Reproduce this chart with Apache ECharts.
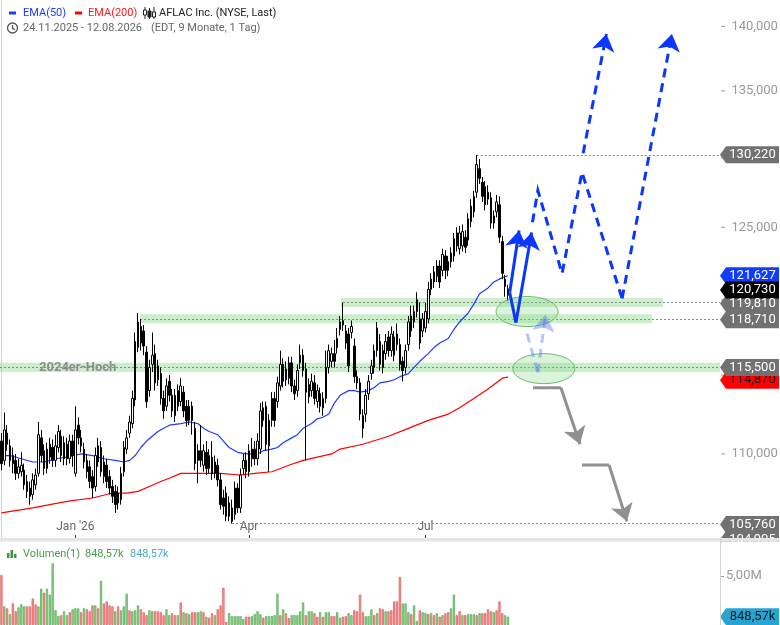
<!DOCTYPE html>
<html><head><meta charset="utf-8">
<script src="https://cdn.jsdelivr.net/npm/echarts@6/dist/echarts.min.js"></script>
<style>html,body{margin:0;padding:0;background:#fff}#c{width:780px;height:625px}</style>
</head><body><div id="c"></div>
<script>
// ---------- DATA ----------
const holidays = ['2025-11-27','2025-12-25','2026-01-01','2026-01-19','2026-02-16','2026-04-03','2026-05-25','2026-06-19','2026-07-03','2026-09-07'];
const firstDate = '2025-11-24';
const slotCount = 253;               // trading-day slots incl. empty future area
// candles: [open, close, low, high]
const ohlc = [
[110.8,109.4,109.0,111.3],[109.6,111.5,109.3,112.6],[111.3,110.6,110.2,111.8],[110.5,109.6,109.2,110.9],[109.9,109.4,108.8,110.4],
[109.6,108.8,108.4,110.0],[108.8,109.2,108.5,109.7],[108.9,109.3,108.6,110.1],[109.0,108.1,107.8,109.4],[108.3,107.7,107.3,108.7],
[107.9,107.4,106.9,108.3],[107.5,108.4,107.2,108.8],[108.1,108.7,107.8,109.1],[108.8,111.2,108.6,112.0],[111.0,109.9,109.5,111.5],
[110.2,109.1,108.7,110.6],[109.1,110.3,108.8,110.7],[109.8,110.6,109.4,111.0],[110.4,109.6,109.2,110.9],[109.6,110.5,109.2,111.2],
[110.4,111.4,110.1,111.8],[111.1,109.9,109.5,111.5],[109.7,110.7,109.3,111.1],[110.6,109.7,109.3,111.0],[109.7,110.8,109.4,111.2],
[110.8,109.9,109.2,111.2],[108.8,111.5,108.6,113.0],[111.8,111.0,110.6,112.3],[111.0,110.5,110.1,111.5],[110.3,109.5,109.1,110.7],
[109.6,108.9,108.5,110.0],[109.2,108.3,107.9,109.6],[108.6,107.9,107.3,109.0],[108.0,109.9,107.7,110.4],[109.5,110.5,109.2,111.0],
[110.4,108.9,108.6,110.8],[108.6,109.5,108.2,109.9],[109.3,108.3,107.9,109.7],[108.6,107.9,107.5,109.0],[108.0,107.4,107.0,108.4],
[107.7,106.9,106.4,108.1],[107.0,107.6,106.6,108.0],[107.2,108.8,106.9,109.2],[108.9,110.4,108.6,110.8],[110.3,111.0,110.0,111.5],
[111.3,112.0,111.0,112.4],[111.9,113.5,111.6,114.0],[113.4,117.2,113.0,117.8],[116.8,118.5,116.5,119.1],[118.2,117.1,116.6,118.7],
[117.9,116.9,116.3,118.3],[116.5,113.3,112.9,116.9],[114.0,115.5,113.6,116.0],[115.7,116.3,115.2,117.8],[116.4,114.5,114.0,117.0],
[114.7,115.6,114.3,116.0],[115.1,113.5,113.1,115.5],[113.5,112.7,112.2,114.0],[113.0,114.3,112.7,114.8],[114.6,113.7,113.3,115.0],
[113.7,112.7,112.3,114.1],[112.4,113.7,112.0,114.1],[113.0,114.0,112.7,114.4],[113.3,114.3,113.0,114.8],[113.9,112.7,112.3,114.3],
[113.0,112.1,111.7,113.4],[112.1,113.0,111.8,113.4],[113.0,112.1,111.2,113.3],[111.6,109.4,109.0,112.0],[109.6,110.2,108.2,110.6],
[110.2,109.6,109.2,111.8],[109.3,110.2,108.9,110.6],[110.1,109.1,108.7,110.8],[109.1,109.9,108.8,110.3],[109.8,108.8,108.4,110.8],
[108.8,109.5,108.5,109.9],[109.3,108.4,108.0,109.7],[108.4,106.9,106.6,108.8],[107.3,106.8,106.3,107.8],[107.6,106.2,105.9,108.0],
[106.2,107.0,105.9,107.4],[106.7,105.9,105.76,107.2],[106.3,107.9,106.0,108.3],[107.9,106.7,106.4,108.2],[106.7,108.7,106.4,109.1],
[109.1,109.6,108.7,110.0],[109.6,108.9,108.5,110.1],[108.9,110.2,108.6,110.6],[109.7,110.3,109.2,111.0],[110.3,109.7,109.3,110.8],
[109.7,110.8,109.3,111.3],[110.3,112.7,110.0,113.2],[112.1,112.9,111.7,113.3],[113.0,110.6,110.2,113.3],[110.5,112.1,108.9,112.5],
[112.1,113.5,111.7,113.9],[113.5,112.1,111.7,113.9],[113.3,114.5,112.9,114.9],[114.3,115.7,114.0,116.6],[115.7,114.6,114.2,116.1],
[115.4,114.7,114.3,115.9],[114.8,115.8,114.4,116.2],[115.8,114.3,113.9,116.2],[114.3,113.8,113.4,114.7],[114.0,115.3,113.6,115.7],
[115.8,116.3,115.4,117.0],[116.3,115.3,114.9,116.7],[115.4,113.9,109.6,115.8],[113.6,114.4,113.2,114.8],[114.0,114.6,113.6,115.1],
[114.5,113.5,113.1,115.0],[113.3,114.0,112.9,114.4],[113.8,113.0,112.6,114.2],[113.5,112.9,112.4,113.9],[113.5,115.5,113.2,116.6],
[115.5,116.6,115.1,117.0],[115.9,116.4,115.5,116.8],[116.4,115.9,115.5,117.3],[116.8,117.4,116.4,118.1],[118.0,118.5,117.6,118.9],
[118.3,118.6,117.9,119.81],[117.9,117.1,116.7,118.3],[117.7,115.6,115.2,118.1],[117.8,118.2,117.4,118.6],[116.9,114.9,114.5,117.4],
[114.9,114.5,114.1,115.3],[114.5,112.5,112.1,114.8],[112.4,111.6,111.0,112.8],[112.5,113.7,112.0,114.1],[113.8,114.6,113.4,115.0],
[115.1,115.6,114.7,116.0],[115.5,116.6,115.1,117.0],[116.6,118.1,116.2,118.5],[117.2,115.7,115.3,117.7],[116.6,115.5,115.1,117.0],
[116.4,117.2,116.0,117.7],[117.5,116.6,116.2,117.9],[116.6,117.7,116.2,118.2],[117.5,116.3,115.9,117.9],[117.0,117.7,116.6,118.4],
[117.0,115.7,115.3,117.4],[115.9,115.3,114.6,116.2],[115.5,116.6,115.1,117.0],[117.0,118.5,116.6,118.9],[117.9,118.9,117.5,119.6],
[118.5,119.2,118.1,119.6],[119.2,120.0,118.8,120.5],[118.7,117.1,116.7,119.8],[117.9,118.7,117.5,119.1],[118.1,119.2,117.8,119.8],
[118.7,120.7,118.4,121.2],[120.7,121.4,120.3,121.8],[121.2,121.9,120.8,122.3],[121.6,122.3,121.2,122.7],[122.3,121.2,120.8,122.7],
[122.0,123.1,121.6,123.5],[123.0,122.0,121.4,123.4],[122.6,122.0,121.6,123.0],[122.6,123.2,122.2,123.6],[123.0,124.2,122.6,124.6],
[124.6,123.7,123.3,125.0],[123.5,124.6,123.1,125.1],[123.7,124.7,123.3,125.2],[124.3,123.6,123.2,124.8],[124.1,125.6,123.7,126.0],
[125.4,126.5,125.0,127.0],[126.1,127.2,125.7,127.6],[127.5,129.5,127.1,130.22],[129.2,128.5,128.1,129.9],[128.2,127.2,126.8,128.6],
[127.9,126.6,126.2,128.3],[127.0,127.5,126.6,128.0],[127.1,125.3,124.9,127.5],[125.3,125.8,124.9,126.2],[126.1,126.8,125.7,127.3],
[126.6,124.3,123.9,127.2],[124.0,121.8,121.4,124.4],[121.4,120.9,120.2,121.7],[120.3,120.73,119.9,121.0]
];
// EMA lines: [bar index, value]
const ema50 = [[0,109.9],[3,109.9],[7,109.7],[11,109.5],[15,109.5],[19,109.7],[23,109.8],[28,110.0],[32,109.9],[36,109.7],[40,109.6],[43,109.5],[45,109.6],[47,109.9],[49,110.4],[51,110.8],[53,111.1],[55,111.4],[57,111.6],[59,111.8],[63,111.9],[66,112.0],[69,111.9],[71,111.6],[73,111.4],[76,111.2],[78,110.8],[80,110.4],[83,110.1],[86,110.0],[88,110.0],[90,110.0],[92,110.2],[95,110.3],[97,110.4],[99,110.7],[102,111.0],[104,111.2],[106,111.6],[109,111.9],[111,112.2],[113,112.3],[115,112.5],[117,113.2],[119,113.7],[122,114.0],[124,114.0],[126,113.9],[129,114.0],[131,114.2],[133,114.5],[136,114.6],[138,114.7],[140,114.9],[143,115.1],[145,115.5],[147,115.9],[150,116.4],[152,116.8],[154,117.1],[157,117.4],[159,118.0],[161,118.5],[164,119.1],[166,119.7],[168,120.4],[171,120.8],[173,121.2],[176,121.5],[178,121.627]];
const ema200 = [[0,106.4],[11,106.7],[23,107.1],[32,107.3],[39,107.6],[44,107.6],[48,107.7],[52,108.0],[56,108.3],[59,108.5],[63,108.8],[70,108.8],[77,108.8],[84,108.7],[89,108.8],[95,108.9],[101,109.3],[106,109.6],[116,110.0],[119,110.3],[127,110.6],[136,111.1],[143,111.6],[150,112.1],[157,112.5],[161,112.9],[166,113.5],[171,114.1],[176,114.8],[178,114.87]];
// volume in millions, and up(1)/down(0) colouring as drawn
const volume = [5.1,1.9,1.7,1.1,2.2,1.4,1.8,2.1,1.9,1.9, 1.9,2.7,2.1,1.9,3.7,3.3,3.7,3.1,6.3,1.5,
0.9,1.0,1.4,1.0,1.3,1.6,1.7,1.7,1.3,1.7, 1.6,1.4,2.0,2.0,1.7,4.5,2.2,2.4,2.0,1.9,
1.4,1.9,1.5,1.9,3.2,1.5,1.4,1.5,2.0,1.6, 1.3,1.0,1.5,1.4,1.4,1.4,1.3,1.0,1.6,1.0,
1.2,1.0,1.0,2.3,1.3,1.2,1.1,1.3,1.3,1.3, 1.4,1.3,0.85,0.75,1.2,1.0,1.6,2.0,3.8,0.3,
1.2,0.9,0.9,0.9,0.9,0.6,0.85,0.85,0.9,1.1, 1.4,1.1,0.75,0.9,0.9,0.9,1.0,3.2,1.0,1.6,
1.2,0.7,1.0,1.0,1.0,1.4,2.3,1.0,1.4,1.4, 1.2,0.85,1.3,0.85,1.3,1.3,0.9,0.9,1.3,0.75,
0.85,0.9,1.2,1.0,1.5,1.4,3.1,1.3,0.9,0.9, 1.6,1.0,1.2,1.7,1.6,1.4,1.4,1.5,2.4,2.4,
4.9,2.2,2.2,1.3,1.1,2.0,0.4,1.5,1.3,1.2, 1.1,1.2,1.0,1.2,0.85,1.0,1.2,1.3,1.7,3.1,
1.0,1.4,1.0,1.0,1.1,1.1,1.1,1.0,1.2,1.2, 1.2,1.6,1.4,1.3,1.5,2.4,1.2,1.0,0.84857];
const volumeUp = [0,1,0,1,0,0,1,1,1,0, 0,0,0,1,1,0,1,1,1,1, 1,0,1,1,0,1,1,1,0,1,
0,0,0,1,0,1,0,0,0,0, 1,0,1,1,1,0,1,1,1,0, 0,0,1,1,0,0,0,0,1,1, 0,0,1,0,1,0,1,0,0,1,
1,0,1,0,0,1,0,0,0,0, 1,1,1,1,1,1,0,0,1,1, 1,1,0,1,1,1,1,1,0,1, 0,0,1,1,1,1,1,0,1,1,
0,0,1,0,1,1,0,0,1,1, 0,0,1,1,0,0,0,0,1,1, 1,0,1,0,0,1,0,0,0,0, 0,1,1,1,0,1,1,0,1,1,
0,1,0,1,0,1,0,0,1,1, 0,0,1,0,1,1,1,0,1,0, 0,0,0,1,0,0,0,1,1];
const yTickValues = [110,115,120,125,130,135,140];
const zoneLevels = [115.5, 118.71, 119.81];
const zoneFrom = [-0.5, 48.7, 119.3];
const zoneTo = [252.5, 228.6, 232.5];
const zoneHalf = 0.3;
const levelTags = [130.22, 119.81, 118.71, 115.5, 105.76, 104.905];
const levelStart = [167, 120, 48.7, -0.5, 81, null];
const zoneLabel = '2024er-Hoch';
// hand-drawn annotations, as [bar slot, price]
const blueSolidPlain = [[[178.6,120.48],[180.8,118.46]]];
const blueSolidArrows = [[[178.6,120.48],[181.9,124.78]], [[180.8,118.46],[186.3,124.64]]];
const blueDashPlain = [[[186.6,125.35],[188.5,127.63],[197.0,121.78],[204.0,128.94],[218.1,120.08]]];
const blueDashArrows = [[[218.1,120.08],[235.6,139.4]], [[204.4,130.33],[212.6,139.4]]];
const lightDashPlain = [[[184.7,117.72],[188.5,115.16]]];
const lightDashArrows = [[[188.5,115.16],[191.2,119.0]]];
const grayPlain = [[[186.8,114.19],[196.6,114.19]], [[204.0,109.32],[213.5,109.32]]];
const grayArrows = [[[196.6,114.19],[203.3,110.6]], [[213.5,109.32],[219.8,105.9]]];
const ellipseCenters = [[184.7,119.2],[190.6,115.42]];

// ---------- BUILD ----------
function buildDates(){
  const out=[]; const d=new Date(firstDate+'T00:00:00Z');
  while(out.length<slotCount){
    const s=d.toISOString().slice(0,10), w=d.getUTCDay();
    if(w!==0&&w!==6&&holidays.indexOf(s)<0) out.push(s);
    d.setUTCDate(d.getUTCDate()+1);
  }
  return out;
}
const dates = buildDates();
const monthNames=['Jan','Feb','Mär','Apr','Mai','Jun','Jul','Aug','Sep','Okt','Nov','Dez'];
function isQuarterStart(idx){
  if(idx===0) return false;
  const m=+dates[idx].slice(5,7)-1, pm=+dates[idx-1].slice(5,7)-1;
  return m!==pm && (m===0||m===3||m===6) && dates[idx].slice(0,4)==='2026';
}
function dateLabel(v){
  const m=+v.slice(5,7)-1;
  return m===0 ? "Jan '"+v.slice(2,4) : monthNames[m];
}
const fmt3 = v => v.toFixed(3).replace('.', ',');
const XMAX = slotCount - 0.5;
const lastClose = ohlc[ohlc.length-1][1];
const ema50Last = ema50[ema50.length-1][1];
const ema200Last = ema200[ema200.length-1][1];
const lastVol = volume[volume.length-1];
const volText = (lastVol*1000).toFixed(2).replace('.',',')+'k';

const TAG = 'path://M0,8.5 L6,0 L59,0 L59,17 L6,17 Z';
function tag(v, text, color, textColor, dy){
  return {coord:[XMAX, v], name:text, symbol:TAG, symbolSize:[59,17], symbolOffset:[29.5, dy||0],
    itemStyle:{color:color}, label:{color:textColor||'#fff'}};
}
const gray='#717171';
const tagData = [];
tagData.push(tag(levelTags[0], fmt3(levelTags[0]), gray));
tagData.push(tag(ema50Last, fmt3(ema50Last), '#0f3cff'));
tagData.push(tag(levelTags[1], fmt3(levelTags[1]), gray, '#fff', 1));
tagData.push(tag(levelTags[2], fmt3(levelTags[2]), gray, '#fff', 1));
tagData.push(tag(levelTags[3], fmt3(levelTags[3]), gray));
tagData.push(tag(levelTags[4], fmt3(levelTags[4]), gray, '#fff', 1));
tagData.push(tag(levelTags[5], fmt3(levelTags[5]), gray, '#fff', 1.5));
tagData.push(tag(lastClose, fmt3(lastClose), '#000', '#fff', 1));

const levelLines = [];
levelTags.forEach((v,i)=>{ if(levelStart[i]!==null) levelLines.push([{coord:[levelStart[i], v]},{coord:[XMAX, v]}]); });

const zoneAreas = zoneLevels.map((v,i)=>[
  {coord:[zoneFrom[i], v-zoneHalf], name: i===0?zoneLabel:'',
   label: i===0?{show:true, position:'insideLeft', offset:[34,0], color:'#8e8e8e', fontSize:13, fontWeight:'bold'}:{show:false}},
  {coord:[zoneTo[i], v+zoneHalf]}
]);

const axisLabelLines = yTickValues.map(v=>[
  {coord:[-0.5,v], name:fmt3(v)},{coord:[XMAX,v]}
]);

function linesSeries(data, color, dashed, arrow, width){
  return {type:'lines', coordinateSystem:'cartesian2d', xAxisIndex:1, yAxisIndex:0,
    polyline: !arrow, silent:true, z:4,
    symbol: arrow?['none','arrow']:'none', symbolSize: arrow?[15,17]:0,
    lineStyle:{color:color, width:width||3, type: dashed?[9,6]:'solid', opacity:1, curveness:0},
    data: data.map(c=>({coords:c}))};
}
const FONT = '11px Roboto, Arial';

const chart = echarts.init(document.getElementById('c'), null, {renderer:'canvas'});
chart.setOption({
  animation:false,
  backgroundColor:'#fff',
  textStyle:{fontFamily:'Roboto, Arial, sans-serif'},
  grid:[{left:0,right:60,top:0,bottom:87},{left:0,right:60,top:542,bottom:0}],
  xAxis:[
    {type:'category', gridIndex:0, data:dates, boundaryGap:true,
     axisLine:{show:false},
     axisTick:{show:true, inside:true, length:3, alignWithLabel:true, interval:(i)=>isQuarterStart(i), lineStyle:{color:'#444'}},
     axisLabel:{inside:true, interval:(i)=>isQuarterStart(i), formatter:dateLabel, color:'#666', fontSize:12, margin:5},
     splitLine:{show:false}},
    {type:'value', gridIndex:0, min:-0.5, max:XMAX, show:false},
    {type:'category', gridIndex:1, data:dates, boundaryGap:true, show:false}
  ],
  yAxis:[
    {type:'log', logBase:10, gridIndex:0, position:'right', min:104.905, max:142.1,
     axisLine:{show:true, lineStyle:{color:'#d4d4d4'}}, axisTick:{show:false}, axisLabel:{show:false}, splitLine:{show:false}},
    {type:'value', gridIndex:1, position:'right', min:0, max:8.47, interval:5,
     axisLine:{show:true, lineStyle:{color:'#d4d4d4'}}, axisTick:{show:true, length:4, lineStyle:{color:'#999'}},
     axisLabel:{formatter:v=>v===5?'5,00M':'', color:'#999', fontSize:13, margin:6}, splitLine:{show:false}}
  ],
  series:[
    {type:'candlestick', xAxisIndex:0, yAxisIndex:0, data:ohlc, barWidth:2, z:3,
     itemStyle:{color:'#ffffff', color0:'#000000', borderColor:'#000000', borderColor0:'#000000', borderWidth:1}},
    {type:'line', name:'EMA(200)', xAxisIndex:1, yAxisIndex:0, data:ema200, showSymbol:false, z:3,
     lineStyle:{color:'#ff0000', width:1.2}, silent:true,
     markLine:{silent:true, symbol:['none','none'], z:3, lineStyle:{color:'rgba(0,0,0,0)'},
       label:{show:true, position:'end', distance:1, color:'#999', fontSize:13,
         formatter:p=>'{t|}  '+p.name, rich:{t:{width:4,height:1,backgroundColor:'#999'}}},
       data:axisLabelLines},
     markPoint:{silent:true, z:9, data:[tag(ema200Last, '114,870', '#ff0000', '#200', 3)],
       label:{show:true, position:'inside', formatter:'{b}', fontSize:13, offset:[3,0]}}},
    {type:'line', name:'EMA(50)', xAxisIndex:1, yAxisIndex:0, data:ema50, showSymbol:false, z:3,
     lineStyle:{color:'#1a3cff', width:1.2}, silent:true,
     markArea:{silent:true, z:1, itemStyle:{color:'rgba(130,215,130,0.42)'}, label:{show:false}, data:zoneAreas},
     markLine:{silent:true, symbol:['none','none'], z:2, label:{show:false},
       lineStyle:{color:'#888', type:[2,2], width:1}, data:levelLines},
     markPoint:{silent:true, z:10, data:tagData,
       label:{show:true, position:'inside', formatter:'{b}', fontSize:13, offset:[3,0]}}},
    {type:'custom', xAxisIndex:1, yAxisIndex:0, data:ellipseCenters, silent:true, z:4,
     renderItem:(params, api)=>{
       const p=api.coord([api.value(0), api.value(1)]);
       return {type:'ellipse', shape:{cx:p[0], cy:p[1], rx:31, ry:15},
         style:{fill:'rgba(150,220,150,0.35)', stroke:'#6cbb6c', lineWidth:1}};
     }},
    linesSeries(lightDashPlain, 'rgba(80,115,245,0.42)', true, false),
    linesSeries(lightDashArrows, 'rgba(80,115,245,0.42)', true, true),
    linesSeries(grayPlain, '#909090', false, false),
    linesSeries(grayArrows, '#909090', false, true),
    linesSeries(blueSolidPlain, '#0a36ff', false, false),
    linesSeries(blueSolidArrows, '#0a36ff', false, true),
    linesSeries(blueDashPlain, '#0a36ff', true, false),
    linesSeries(blueDashArrows, '#0a36ff', true, true),
    {type:'bar', xAxisIndex:2, yAxisIndex:1, barWidth:2.2, silent:true,
     data: volume.map((v,i)=>({value:v, itemStyle: volumeUp[i]
        ? {color:'#94d694', borderColor:'#4ea64e', borderWidth:0.7}
        : {color:'#f39a9a', borderColor:'#e25555', borderWidth:0.7}})),
     markPoint:{silent:true, z:10, data:[{coord:[slotCount-1, lastVol], name:volText,
        symbol:TAG, symbolSize:[59,17], symbolOffset:[31,0], itemStyle:{color:'#29a3cf'}}],
       label:{show:true, position:'inside', formatter:'{b}', fontSize:13, offset:[3,0], color:'#0b1d2a'}}}
  ],
  graphic:[
    {type:'rect', z:100, shape:{x:0,y:538,width:780,height:3.5}, style:{fill:'#e4e4e4'}},
    {type:'rect', z:100, shape:{x:721.5,y:541.5,width:60,height:14}, style:{fill:'#fff'}},
    {type:'line', z:101, shape:{x1:720.5,y1:538,x2:720.5,y2:625}, style:{stroke:'#d4d4d4', lineWidth:1}},
    // top legend
    {type:'rect', z:100, shape:{x:9,y:11.5,width:7,height:3}, style:{fill:'#1a3cff'}},
    {type:'text', z:100, x:23, y:13, style:{text:'EMA(50)', fill:'#1a3cff', font:FONT, verticalAlign:'middle'}},
    {type:'rect', z:100, shape:{x:75,y:11.5,width:7,height:3}, style:{fill:'#ff0000'}},
    {type:'text', z:100, x:88, y:13, style:{text:'EMA(200)', fill:'#ff1a1a', font:FONT, verticalAlign:'middle'}},
    {type:'line', z:100, shape:{x1:145,y1:7,x2:145,y2:19}, style:{stroke:'#222', lineWidth:1}},
    {type:'rect', z:100, shape:{x:143.5,y:10,width:3,height:5}, style:{fill:'#fff', stroke:'#222', lineWidth:1}},
    {type:'line', z:100, shape:{x1:149.5,y1:8,x2:149.5,y2:19}, style:{stroke:'#222', lineWidth:1}},
    {type:'rect', z:100, shape:{x:148,y:11,width:3,height:6}, style:{fill:'#222', stroke:'#222', lineWidth:1}},
    {type:'line', z:100, shape:{x1:154,y1:7,x2:154,y2:19}, style:{stroke:'#222', lineWidth:1}},
    {type:'rect', z:100, shape:{x:152.5,y:12,width:3,height:5}, style:{fill:'#fff', stroke:'#222', lineWidth:1}},
    {type:'text', z:100, x:159, y:13, style:{text:'AFLAC Inc. (NYSE, Last)', fill:'#222', font:FONT, verticalAlign:'middle'}},
    {type:'circle', z:100, shape:{cx:12.5,cy:28,r:5}, style:{fill:'none', stroke:'#555', lineWidth:1.3}},
    {type:'polyline', z:100, shape:{points:[[12.5,25],[12.5,28.3],[15,29.8]]}, style:{fill:'none', stroke:'#555', lineWidth:1.2}},
    {type:'text', z:100, x:23, y:28, style:{text:'24.11.2025 - 12.08.2026', fill:'#666', font:FONT, verticalAlign:'middle'}},
    {type:'text', z:100, x:151, y:28, style:{text:'(EDT, 9 Monate, 1 Tag)', fill:'#666', font:FONT, verticalAlign:'middle'}},
    // volume legend
    {type:'rect', z:100, shape:{x:5,y:546,width:171,height:16}, style:{fill:'rgba(255,255,255,0.95)'}},
    {type:'rect', z:101, shape:{x:7,y:553,width:2.5,height:5}, style:{fill:'#3c963c'}},
    {type:'rect', z:101, shape:{x:10.5,y:550,width:2.5,height:8}, style:{fill:'#3c963c'}},
    {type:'rect', z:101, shape:{x:14,y:554,width:2.5,height:4}, style:{fill:'#3c963c'}},
    {type:'text', z:101, x:23, y:554.5, style:{text:'Volumen(1)', fill:'#4a9a4a', font:FONT, verticalAlign:'middle'}},
    {type:'text', z:101, x:85, y:554.5, style:{text:volText, fill:'#4a9a4a', font:FONT, verticalAlign:'middle'}},
    {type:'text', z:101, x:130, y:554.5, style:{text:volText, fill:'#49a9d6', font:FONT, verticalAlign:'middle'}}
  ]
});
</script></body></html>
